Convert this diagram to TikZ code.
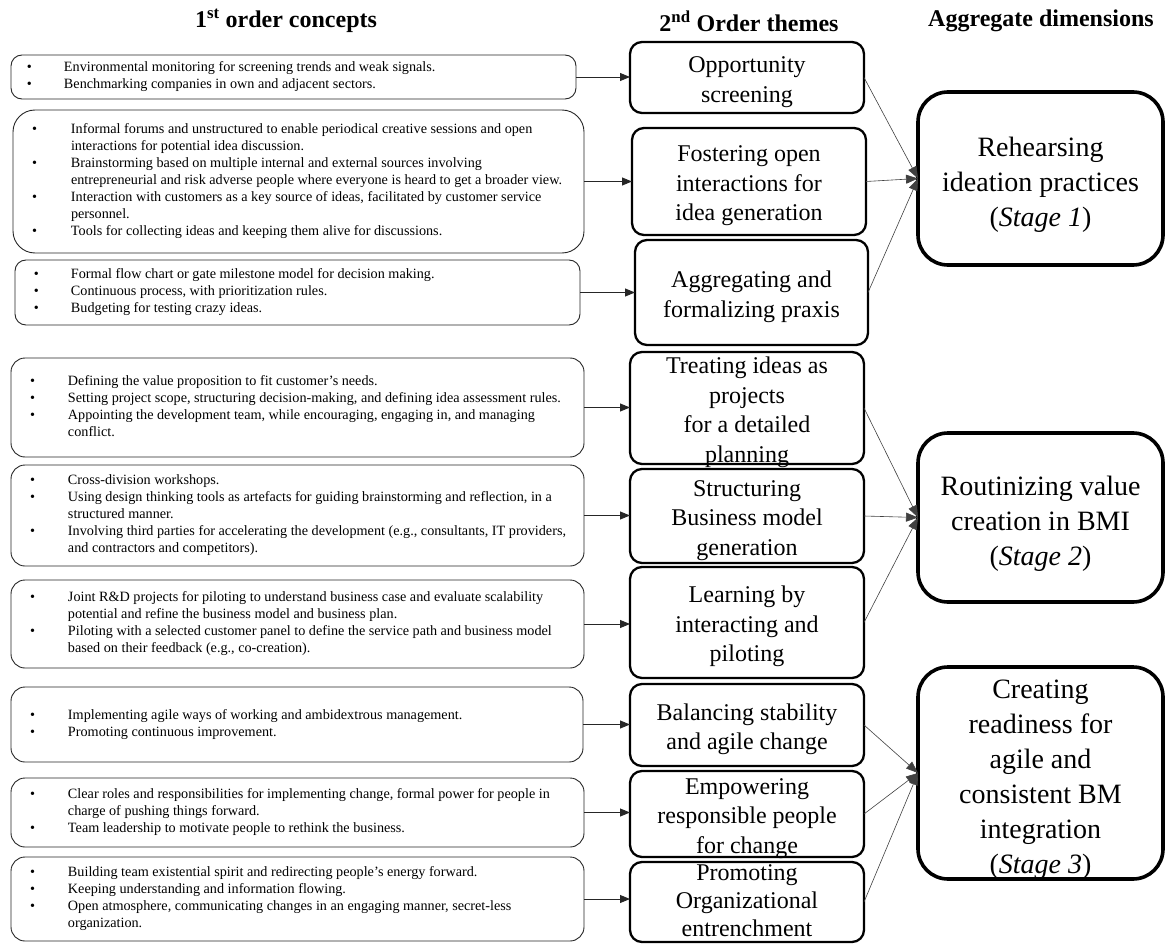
\documentclass[tikz,border=0pt]{standalone}
\usepackage{fontspec}
\setmainfont{Liberation Serif}
\usetikzlibrary{arrows.meta}
\newcommand\bul{\hspace*{19pt}\textbullet}
\newcommand\bula{\hspace*{16pt}\textbullet}
\newcommand\lcont[2][57pt]{\smash{\raisebox{-0.25em}{\begin{tabular}{@{}p{#1}@{}l@{}}#2\end{tabular}}}}
\newcommand\ccont[2][-0.42em]{\smash{\raisebox{#1}{\begin{tabular}{@{}c@{}}#2\end{tabular}}}}
\tikzset{
 lbox/.style={draw=black!85, line width=0.9pt, rounded corners=11pt, inner sep=0pt, outer sep=0pt, font=\fontsize{14.2}{17}\selectfont},
 mbox/.style={draw, line width=2.3pt, rounded corners=12pt, inner sep=0pt, outer sep=0pt, minimum width=234pt, font=\fontsize{24}{29.5}\selectfont},
 rbox/.style={draw, line width=3.6pt, rounded corners=30pt, inner sep=0pt, outer sep=0pt, minimum width=245pt, font=\fontsize{28}{35}\selectfont},
 hdr/.style={font=\bfseries\fontsize{24}{28}\selectfont, inner sep=0pt},
 larr/.style={draw=black!85, line width=0.9pt, -{Triangle[length=10pt,width=8pt]}},
 rarr/.style={draw=black!75, line width=0.6pt, -{Triangle[length=12pt,width=9pt]}},
}
\begin{document}
\begin{tikzpicture}[x=1pt,y=-1pt]
\useasboundingbox (0,0) rectangle (1165,944);
% headers
\node[hdr] (h1) at (286,21) {1\textsuperscript{st} order concepts};
\node[hdr] (h2) at (749,21) {2\textsuperscript{nd} Order themes};
\node[hdr] (h3) at (1041,21) {Aggregate dimensions};
% first order concepts
\node[lbox, minimum width=565pt, minimum height=44pt] (L1) at (293.5,77) {\makebox[565pt][l]{\lcont[53pt]{\bula & Environmental monitoring for screening trends and weak signals.\\ \bula & Benchmarking companies in own and adjacent sectors.}}};
\node[lbox, rounded corners=22pt, minimum width=571pt, minimum height=143pt] (L2) at (298.5,181.5) {\makebox[571pt][l]{\lcont[58pt]{\bul & Informal forums and unstructured to enable periodical creative sessions and open\\ & interactions for potential idea discussion.\\ \bul & Brainstorming based on multiple internal and external sources involving\\ & entrepreneurial and risk adverse people where everyone is heard to get a broader view.\\ \bul & Interaction with customers as a key source of ideas, facilitated by customer service\\ & personnel.\\ \bul & Tools for collecting ideas and keeping them alive for discussions.}}};
\node[lbox, minimum width=565pt, minimum height=65pt] (L3) at (297.5,292.5) {\makebox[565pt][l]{\lcont[56pt]{\bul & Formal flow chart or gate milestone model for decision making.\\ \bul & Continuous process, with prioritization rules.\\ \bul & Budgeting for testing crazy ideas.}}};
\node[lbox, rounded corners=14pt, minimum width=573pt, minimum height=99pt] (L4) at (297.5,407.5) {\makebox[573pt][l]{\lcont{\bul & Defining the value proposition to fit customer’s needs.\\ \bul & Setting project scope, structuring decision-making, and defining idea assessment rules.\\ \bul & Appointing the development team, while encouraging, engaging in, and managing\\ & conflict.}}};
\node[lbox, rounded corners=14pt, minimum width=573pt, minimum height=101pt] (L5) at (297.5,515.5) {\makebox[573pt][l]{\lcont{\bul & Cross-division workshops.\\ \bul & Using design thinking tools as artefacts for guiding brainstorming and reflection, in a\\ & structured manner.\\ \bul & Involving third parties for accelerating the development (e.g., consultants, IT providers,\\ & and contractors and competitors).}}};
\node[lbox, rounded corners=14pt, minimum width=573pt, minimum height=88pt] (L6) at (297.5,624) {\makebox[573pt][l]{\lcont{\bul & Joint R\&D projects for piloting to understand business case and evaluate scalability\\ & potential and refine the business model and business plan.\\ \bul & Piloting with a selected customer panel to define the service path and business model\\ & based on their feedback (e.g., co-creation).}}};
\node[lbox, rounded corners=14pt, minimum width=572pt, minimum height=75pt] (L7) at (297,724.5) {\makebox[572pt][l]{\lcont{\bul & Implementing agile ways of working and ambidextrous management.\\ \bul & Promoting continuous improvement.}}};
\node[lbox, rounded corners=14pt, minimum width=573pt, minimum height=69pt] (L8) at (297.5,812.5) {\makebox[573pt][l]{\lcont{\bul & Clear roles and responsibilities for implementing change, formal power for people in\\ & charge of pushing things forward.\\ \bul & Team leadership to motivate people to rethink the business.}}};
\node[lbox, rounded corners=14pt, minimum width=573pt, minimum height=84pt] (L9) at (297.5,899) {\makebox[573pt][l]{\lcont{\bul & Building team existential spirit and redirecting people's energy forward.\\ \bul & Keeping understanding and information flowing.\\ \bul & Open atmosphere, communicating changes in an engaging manner, secret-less\\ & organization.}}};
% second order themes
\node[mbox, minimum height=71pt] (M1) at (747,77.5) {\ccont{Opportunity\\screening}};
\node[mbox, minimum height=107pt] (M2) at (749,181.5) {\ccont{Fostering open\\interactions for\\idea generation}};
\node[mbox, minimum height=105pt, minimum width=233pt] (M3) at (751.5,292.5) {\ccont{Aggregating and\\formalizing praxis}};
\node[mbox, minimum height=112pt] (M4) at (747,408) {\ccont{Treating ideas as\\projects\\for a detailed\\planning}};
\node[mbox, minimum height=94pt] (M5) at (747,516) {\ccont{Structuring\\Business model\\generation}};
\node[mbox, minimum height=111pt] (M6) at (747,622.5) {\ccont{Learning by\\interacting and\\piloting}};
\node[mbox, minimum height=82pt] (M7) at (747,725) {\ccont{Balancing stability\\and agile change}};
\node[mbox, minimum height=86pt] (M8) at (747,814) {\ccont{Empowering\\responsible people\\for change}};
\node[mbox, minimum height=80pt] (M9) at (747,902) {\fontsize{24}{28}\selectfont\ccont[-0.3em]{Promoting\\Organizational\\entrenchment}};
% aggregate dimensions
\node[rbox, minimum height=173pt] (R1) at (1040.5,178.5) {\ccont{Rehearsing\\ideation practices\\(\textit{Stage 1})}};
\node[rbox, minimum height=169pt] (R2) at (1040.5,517.5) {\ccont{Routinizing value\\creation in BMI\\(\textit{Stage 2})}};
\node[rbox, minimum height=212pt] (R3) at (1040.5,773) {\ccont{Creating\\readiness for\\agile and\\consistent BM\\integration\\(\textit{Stage 3})}};
% connectors first -> second
\foreach \i in {1,...,9}{
  \draw[larr] (L\i.east) -- (L\i.east -| M\i.west);
}
% connectors second -> aggregate
\draw[rarr] (M1.east) -- (R1.west);
\draw[rarr] (M2.east) -- (R1.west);
\draw[rarr] (M3.east) -- (R1.west);
\draw[rarr] (M4.east) -- (R2.west);
\draw[rarr] (M5.east) -- (R2.west);
\draw[rarr] (M6.east) -- (R2.west);
\draw[rarr] (M7.east) -- (R3.west);
\draw[rarr] (M8.east) -- (R3.west);
\draw[rarr] (M9.east) -- (R3.west);
\end{tikzpicture}
\end{document}
